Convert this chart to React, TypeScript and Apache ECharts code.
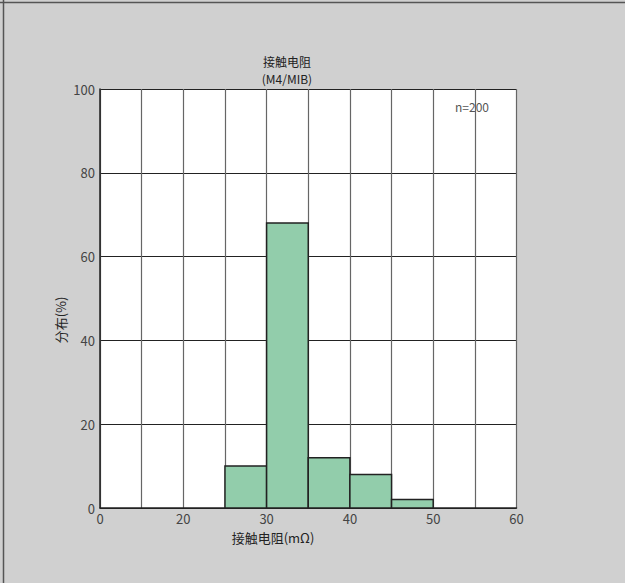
import React, { useEffect, useRef } from "react";
import * as echarts from "echarts";

const binStarts = [25, 30, 35, 40, 45];
const binEnds = [30, 35, 40, 45, 50];
const percents = [10, 68, 12, 8, 2];
const xTickValues = [10, 20, 30, 40, 50, 60];
const xTickLabels = ["0", "20", "30", "40", "50", "60"];
const titleLines = ["接触电阻", "(M4/MIB)"];
const xName = "接触电阻(mΩ)";
const yName = "分布(%)";
const nText = "n=200";

const FONT = "'Noto Sans CJK SC', 'Noto Sans', sans-serif";

export default function App() {
  const ref = useRef<HTMLDivElement>(null);
  useEffect(() => {
    if (!ref.current) return;
    const chart = echarts.init(ref.current, null, { renderer: "svg" });
    const data = binStarts.map((s, i) => [s, binEnds[i], percents[i]]);
    chart.setOption({
      animation: false,
      backgroundColor: "#d0d0d0",
      textStyle: { fontFamily: FONT },
      grid: {
        left: 100,
        top: 89,
        right: 108.5,
        bottom: 75,
        containLabel: false,
        show: true,
        backgroundColor: "#ffffff",
        borderWidth: 0,
      },
      xAxis: {
        type: "value",
        min: 10,
        max: 60,
        interval: 5,
        axisLine: { show: true, onZero: false, lineStyle: { color: "#222", width: 1.5 } },
        axisTick: { show: false },
        splitLine: { show: true, lineStyle: { color: "#666", width: 1.2 } },
        axisLabel: {
          color: "#444",
          fontSize: 13,
          lineHeight: 12,
          margin: 4,
          fontFamily: FONT,
          formatter: (v: number) => {
            const i = xTickValues.indexOf(v);
            return i >= 0 ? xTickLabels[i] : "";
          },
        },
      },
      yAxis: {
        type: "value",
        min: 0,
        max: 100,
        interval: 20,
        axisLine: { show: true, lineStyle: { color: "#222", width: 1.5 } },
        axisTick: { show: false },
        splitLine: { show: true, lineStyle: { color: "#222", width: 1 } },
        axisLabel: { color: "#444", fontSize: 13, margin: 5, fontFamily: FONT },
      },
      series: [
        {
          type: "custom",
          data,
          renderItem: (params: any, api: any) => {
            const p0 = api.coord([api.value(0), api.value(2)]);
            const p1 = api.coord([api.value(1), 0]);
            return {
              type: "rect",
              shape: { x: p0[0], y: p0[1], width: p1[0] - p0[0], height: p1[1] - p0[1] },
              style: { fill: "#92cdab", stroke: "#222", lineWidth: 1.5 },
            };
          },
        },
      ],
      graphic: [
        { type: "line", shape: { x1: 0, y1: 2.5, x2: 625, y2: 2.5 }, style: { stroke: "#555", lineWidth: 1.5 } },
        { type: "line", shape: { x1: 3.5, y1: 0, x2: 3.5, y2: 583 }, style: { stroke: "#555", lineWidth: 1.5 } },
        {
          type: "text",
          x: 287,
          y: 61,
          style: {
            text: titleLines[0],
            fill: "#222",
            font: `12px ${FONT}`,
            lineHeight: 12,
            align: "center",
            verticalAlign: "middle",
          },
        },
        {
          type: "text",
          x: 287,
          y: 78,
          style: {
            text: titleLines[1],
            fill: "#222",
            font: `12px ${FONT}`,
            lineHeight: 12,
            align: "center",
            verticalAlign: "middle",
          },
        },
        {
          type: "text",
          x: 472,
          y: 106,
          style: { text: nText, fill: "#555", font: `12px ${FONT}`, align: "center", verticalAlign: "middle" },
        },
        {
          type: "text",
          x: 273,
          y: 537,
          style: {
            text: xName,
            fill: "#222",
            font: `13px ${FONT}`,
            lineHeight: 12,
            align: "center",
            verticalAlign: "middle",
          },
        },
        {
          type: "text",
          x: 60,
          y: 320,
          rotation: Math.PI / 2,
          style: { text: yName, fill: "#222", font: `13px ${FONT}`, align: "center", verticalAlign: "middle" },
        },
      ],
    });
    return () => chart.dispose();
  }, []);
  return (
    <div
      ref={ref}
      style={{ position: "absolute", left: 0, top: 0, width: 625, height: 583 }}
    />
  );
}
